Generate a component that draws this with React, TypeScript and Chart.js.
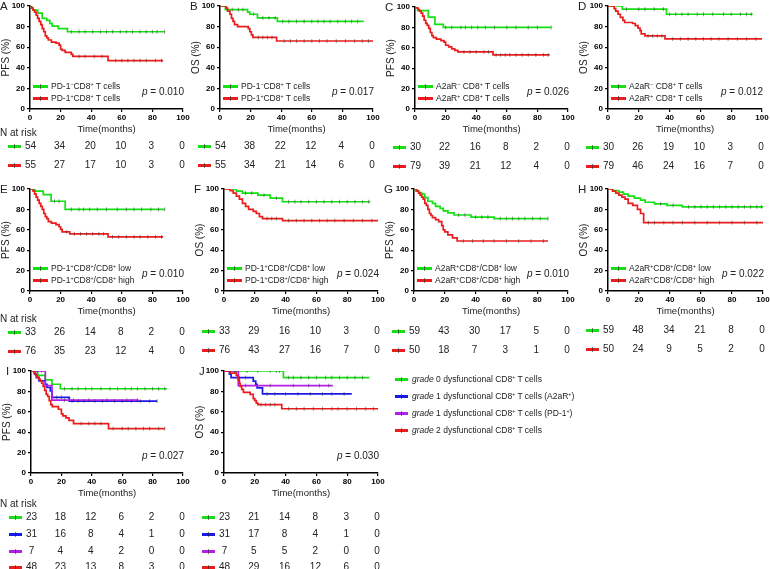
import React, { useEffect, useRef } from 'react';
import { Chart, registerables } from 'chart.js';
Chart.register(...registerables);

const FONT = "Arial, 'Liberation Sans', Helvetica, sans-serif";
const GREEN = '#14e014';
const RED = '#ec1c1c';
const BLUE = '#1a1ae6';
const PURPLE = '#b41ee8';

const xTicks = [0, 20, 40, 60, 80, 100];
const yTicks = [0, 20, 40, 60, 80, 100];
const riskMonths = [0, 20, 40, 60, 80, 100];

// ---------- Panel A (PFS, PD-1) ----------
const A_neg_t = [1, 2, 5, 8, 11, 13, 14.5, 18.5, 24.5];
const A_neg_s = [98, 96, 93, 88, 86, 83, 80.5, 78, 75];
const A_neg_c = [27, 32, 36, 41, 46, 50, 54, 59, 63, 67, 72, 76, 80, 83, 88];
const A_pos_t = [1, 2, 3, 4, 5, 6, 7, 8, 9, 10, 11, 12, 14, 17, 19, 20, 21, 23, 27, 28, 51];
const A_pos_s = [98, 96, 94, 91, 88, 85, 82, 78, 75, 71, 69, 67, 65, 64, 62, 58, 57, 55, 53, 51, 47];
const A_pos_c = [32, 36, 42, 47, 56, 60, 64, 68, 72, 76, 82, 86];
const A_risk = [[54, 34, 20, 10, 3, 0], [55, 27, 17, 10, 3, 0]];

// ---------- Panel B (OS, PD-1) ----------
const B_neg_t = [3.5, 18, 19.5, 24.5, 37.5];
const B_neg_s = [96.5, 94, 92, 88.5, 85];
const B_neg_c = [8, 12, 15, 22, 28, 32, 36, 41, 45, 50, 55, 60, 64, 68, 72, 77, 82, 86, 90];
const B_pos_t = [4, 5, 6.5, 7.5, 8.5, 9.5, 11.5, 18.5, 19.5, 20.5, 21.5, 37];
const B_pos_s = [98, 95, 92, 88, 85, 82, 80, 78, 75, 72, 69.5, 66];
const B_pos_c = [25, 28, 31, 34, 42, 46, 50, 55, 60, 65, 70, 76, 82, 88, 93, 97];
const B_risk = [[54, 38, 22, 12, 4, 0], [55, 34, 21, 14, 6, 0]];

// ---------- Panel C (PFS, A2aR) ----------
const C_neg_t = [1.7, 8.7, 13, 18.5];
const C_neg_s = [96.5, 90, 83, 80];
const C_neg_c = [20, 24, 30, 33, 37, 41, 46, 52, 60, 66, 74, 80, 89];
const C_pos_t = [1, 2, 3, 4, 5, 6, 7, 8, 9, 10, 11, 12, 14, 17, 19, 20, 22, 24, 26, 28, 51];
const C_pos_s = [99, 97.5, 96, 94, 91, 87, 84, 82, 79, 75, 72, 70, 68.5, 67, 65.5, 62.5, 61, 59, 57.5, 56, 53];
const C_pos_c = [32, 36, 40, 45, 48, 53, 56, 59, 62, 66, 70, 74, 79, 84, 87];
const C_risk = [[30, 22, 16, 8, 2, 0], [79, 39, 21, 12, 4, 0]];

// ---------- Panel D (OS, A2aR) ----------
const D_neg_t = [9.3, 38];
const D_neg_s = [97, 92];
const D_neg_c = [12, 20, 24, 30, 36, 40, 44, 48, 52, 58, 62, 68, 75, 80, 86, 90, 93];
const D_pos_t = [4, 5, 6.5, 8, 9.7, 10.8, 16, 17.7, 19.5, 20.8, 21.6, 24, 37];
const D_pos_s = [97.5, 95, 92, 89, 86, 84, 83, 81, 78.5, 76, 73, 71, 68];
const D_pos_c = [26, 29, 32, 35, 42, 47, 52, 57, 62, 67, 72, 78, 84, 90, 96];
const D_risk = [[30, 26, 19, 10, 3, 0], [79, 46, 24, 16, 7, 0]];

// ---------- Panel E (PFS, PD-1 ratio) ----------
const E_low_t = [3.3, 8.7, 13.8, 23];
const E_low_s = [98, 94.5, 88, 80];
const E_low_c = [16, 19, 27, 32, 35, 39, 44, 50, 57, 63, 68, 73, 79, 84, 88];
const E_high_t = [2, 3, 4, 5, 6, 7, 8, 9, 10, 11, 12, 14, 17, 19, 20, 21, 26, 51];
const E_high_s = [98, 95, 92, 89, 86, 83, 80, 76, 73, 71, 68, 66.5, 65, 63, 60.5, 58, 56, 53];
const E_high_c = [24, 29, 33, 37, 41, 45, 48, 54, 58, 63, 68, 72, 77, 82, 86];
const E_risk = [[33, 26, 14, 8, 2, 0], [76, 35, 23, 12, 4, 0]];

// ---------- Panel F (OS, PD-1 ratio) ----------
const F_low_t = [8, 12, 22, 30, 38];
const F_low_s = [98, 96, 94, 91, 87.5];
const F_low_c = [14, 18, 26, 34, 42, 46, 50, 55, 60, 65, 70, 75, 80, 85, 90, 94];
const F_high_t = [4, 6, 8, 10, 12, 14, 16, 19, 21, 23, 25, 38];
const F_high_s = [98.5, 96, 93, 90, 86, 83, 80, 78, 76, 73, 71, 69];
const F_high_c = [28, 31, 34, 42, 47, 52, 57, 62, 67, 72, 78, 84, 90, 96];
const F_risk = [[33, 29, 16, 10, 3, 0], [76, 43, 27, 16, 7, 0]];

// ---------- Panel G (PFS, A2aR ratio) ----------
const G_low_t = [1, 3, 5, 7, 9, 12, 14, 17, 19, 22, 26, 37, 52];
const G_low_s = [98, 96.5, 95, 91.5, 88, 86, 83, 81, 78.5, 76.5, 74.5, 72.5, 71];
const G_low_c = [29, 33, 40, 44, 48, 56, 60, 64, 68, 72, 77, 82, 87];
const G_high_t = [2, 3, 4, 5, 6, 7, 8, 9, 10, 11, 12, 14, 16, 18, 19, 20, 22, 25, 28];
const G_high_s = [98, 96, 94, 92, 90, 86, 84, 80, 76, 74, 72, 70, 68, 64, 60, 58, 55, 52, 49];
const G_high_c = [32, 38, 45, 52, 60, 68, 76, 84];
const G_risk = [[59, 43, 30, 17, 5, 0], [50, 18, 7, 3, 1, 0]];

// ---------- Panel H (OS, A2aR ratio) ----------
const H_low_t = [3, 7, 10, 13, 17, 21, 24, 30, 38, 48];
const H_low_s = [98.5, 97, 95, 93, 91, 89, 87, 85.5, 84, 82.5];
const H_low_c = [34, 42, 52, 56, 60, 64, 68, 72, 76, 80, 84, 88, 92, 96, 99];
const H_high_t = [3, 5, 7, 9, 11, 13, 16, 19, 21, 23];
const H_high_s = [98, 96, 94, 92, 90, 86, 84, 80, 76, 67];
const H_high_c = [26, 30, 36, 42, 48, 56, 64, 72, 80, 88, 96];
const H_risk = [[59, 48, 34, 21, 8, 0], [50, 24, 9, 5, 2, 0]];

// ---------- Panel I (PFS, grades) ----------
const I_g0_t = [4.4, 9.4, 13.8, 19.3];
const I_g0_s = [95.7, 91.3, 87, 82.6];
const I_g0_c = [22, 27, 31, 36, 40, 46, 52, 57, 62, 66, 70, 75, 80, 84, 88];
const I_g1a_t = [2.4, 3.5, 5.3, 9.4, 10.5, 12.7, 13.8, 25.2];
const I_g1a_s = [96.8, 93.5, 90.3, 87, 83.8, 80.6, 74.2, 70.5];
const I_g1a_c = [17, 20, 27, 31, 35, 42, 47, 55, 60, 66, 72, 78, 83];
const I_g1p_t = [9.4, 13.8];
const I_g1p_s = [85.7, 71.4];
const I_g1p_c = [4, 7, 22, 28, 38, 50, 63, 70];
const I_g2_t = [2, 3, 4, 5, 6, 7, 8, 9, 10, 11, 12, 13, 14, 18, 20, 21, 23, 25, 28, 51];
const I_g2_s = [98, 96, 94, 92, 90, 88, 85, 81, 77, 75, 71, 67, 65, 62.5, 58, 56, 54, 51.5, 48.5, 43.5];
const I_g2_c = [33, 38, 42, 46, 54, 60, 64, 69, 74, 78, 84, 88];
const I_risk = [[23, 18, 12, 6, 2, 0], [31, 16, 8, 4, 1, 0], [7, 4, 4, 2, 0, 0], [48, 23, 13, 8, 3, 0]];

// ---------- Panel J (OS, grades) ----------
const J_g0_t = [38.6];
const J_g0_s = [93.5];
const J_g0_c = [8, 15, 22, 30, 34, 36, 42, 45, 50, 55, 60, 66, 70, 75, 80, 85, 90];
const J_g1a_t = [3.5, 4.6, 19, 20.6, 21.5, 25];
const J_g1a_s = [97, 93.5, 90, 87, 83.5, 77.5];
const J_g1a_c = [10, 14, 28, 33, 40, 48, 56, 64, 70, 78];
const J_g1p_t = [9.3];
const J_g1p_s = [85.7];
const J_g1p_c = [4, 7, 14, 30, 45, 55, 62, 68];
const J_g2_t = [4, 8, 8.7, 9.3, 10, 10.5, 11.5, 12.6, 17, 19, 20, 21, 22, 37.5];
const J_g2_s = [98, 96, 93.5, 91, 88, 85, 82, 79, 77, 73, 71, 68.5, 67, 63];
const J_g2_c = [24, 27, 30, 33, 42, 47, 52, 58, 64, 70, 74, 80, 86, 92, 97];
const J_risk = [[23, 21, 14, 8, 3, 0], [31, 17, 8, 4, 1, 0], [7, 5, 5, 2, 0, 0], [48, 29, 16, 12, 6, 0]];

type Curve = { color: string; t: number[]; s: number[]; end: number; c: number[] };

function survAt(t: number[], s: number[], time: number) {
  let v = 100;
  for (let i = 0; i < t.length; i++) if (t[i] <= time) v = s[i];
  return v;
}

const padL = 30, padR = 10, padT = 7, padB = 27;

function KMChart({ x0, x1, yt, yb, yTitle, curves }: { x0: number; x1: number; yt: number; yb: number; yTitle: string; curves: Curve[] }) {
  const ref = useRef<HTMLCanvasElement>(null);
  const W = x1 - x0 + padL + padR;
  const H = yb - yt + padT + padB;
  useEffect(() => {
    const datasets: any[] = [];
    curves.forEach((cv) => {
      datasets.push({
        data: cv.c.map((x) => ({ x, y: survAt(cv.t, cv.s, x) })),
        showLine: false, pointStyle: 'line', rotation: 90, pointRadius: 2,
        borderColor: 'rgba(40,40,40,0.6)', backgroundColor: 'rgba(40,40,40,0.6)', borderWidth: 0.8, order: 0,
      });
    });
    curves.forEach((cv, i) => {
      const last = cv.s[cv.s.length - 1];
      datasets.push({
        data: [{ x: 0, y: 100 }, ...cv.t.map((x, k) => ({ x, y: cv.s[k] })), { x: cv.end, y: last }],
        showLine: true, stepped: true, borderColor: cv.color, borderWidth: 1.7, pointRadius: 0, fill: false, order: 1 + (curves.length - i),
      });
    });
    const tickFont = { size: 8, weight: 'bold' as const, family: FONT };
    const chart = new Chart(ref.current as HTMLCanvasElement, {
      type: 'scatter',
      data: { datasets },
      options: {
        responsive: false, animation: false, devicePixelRatio: 1,
        layout: { padding: { top: padT, right: padR, left: 0, bottom: 0 } },
        plugins: { legend: { display: false }, tooltip: { enabled: false } },
        events: [],
        scales: {
          x: {
            type: 'linear', min: 0, max: 100,
            afterBuildTicks: (s: any) => { s.ticks = xTicks.map((v) => ({ value: v })); },
            afterFit: (s: any) => { s.height = padB; },
            ticks: { font: tickFont, color: '#000', padding: 1, maxRotation: 0, autoSkip: false },
            grid: { drawOnChartArea: false, drawTicks: true, tickLength: 3, color: '#000', lineWidth: 1.2 },
            border: { display: true, color: '#000', width: 1.5 },
            title: { display: true, text: 'Time(months)', font: { size: 9.5, family: FONT }, color: '#222', padding: { top: 0, bottom: 1 } },
          },
          y: {
            type: 'linear', min: 0, max: 100,
            afterBuildTicks: (s: any) => { s.ticks = yTicks.map((v) => ({ value: v })); },
            afterFit: (s: any) => { s.width = padL; },
            ticks: { font: tickFont, color: '#000', padding: 2, autoSkip: false },
            grid: { drawOnChartArea: false, drawTicks: true, tickLength: 3, color: '#000', lineWidth: 1.2 },
            border: { display: true, color: '#000', width: 1.5 },
            title: { display: true, text: yTitle, font: { size: 10, family: FONT }, color: '#222', padding: { top: 0, bottom: 0 } },
          },
        },
      } as any,
    });
    return () => chart.destroy();
  }, []);
  return (
    <canvas ref={ref} width={W} height={H}
      style={{ position: 'absolute', left: x0 - padL, top: yt - padT, width: W, height: H }} />
  );
}

const sup = (c: string) => (
  <span style={{ fontSize: '0.62em', position: 'relative', top: '-0.55em' }}>{c}</span>
);

function LegendLine({ x, y, color, w = 15 }: { x: number; y: number; color: string; w?: number }) {
  return (
    <>
      <div style={{ position: 'absolute', left: x, top: y - 1.5, width: w, height: 3, background: color }} />
      <div style={{ position: 'absolute', left: x + w / 2 - 0.5, top: y - 2.5, width: 1, height: 5, background: 'rgba(40,40,40,0.6)' }} />
    </>
  );
}

function Txt({ x, y, children, size = 10, align = 'left', w = 200, style = {} }: any) {
  const left = align === 'left' ? x : align === 'right' ? x - w : x - w / 2;
  return (
    <div style={{ position: 'absolute', left, top: y - size * 0.6, width: w, lineHeight: `${size * 1.2}px`, fontSize: size, fontFamily: FONT, color: '#222', textAlign: align, whiteSpace: 'nowrap', ...style }}>
      {children}
    </div>
  );
}

type PanelDef = {
  id: string; x0: number; x1: number; yt: number; yb: number; yTitle: string;
  curves: Curve[]; legend?: any[]; p: string; risk: number[][]; riskY: number[]; nAtRisk?: boolean;
};

const PD1neg = <>PD-1{sup('−')}CD8{sup('+')} T cells</>;
const PD1pos = <>PD-1{sup('+')}CD8{sup('+')} T cells</>;
const A2neg = <>A2aR{sup('−')} CD8{sup('+')} T cells</>;
const A2pos = <>A2aR{sup('+')} CD8{sup('+')} T cells</>;
const PD1low = <>PD-1{sup('+')}CD8{sup('+')}/CD8{sup('+')} low</>;
const PD1high = <>PD-1{sup('+')}CD8{sup('+')}/CD8{sup('+')} high</>;
const A2low = <>A2aR{sup('+')}CD8{sup('+')}/CD8{sup('+')} low</>;
const A2high = <>A2aR{sup('+')}CD8{sup('+')}/CD8{sup('+')} high</>;

const gradeLegend = [
  { color: GREEN, label: <><i>grade</i> 0 dysfunctional CD8{sup('+')} T cells</> },
  { color: BLUE, label: <><i>grade</i> 1 dysfunctional CD8{sup('+')} T cells (A2aR{sup('+')})</> },
  { color: PURPLE, label: <><i>grade</i> 1 dysfunctional CD8{sup('+')} T cells (PD-1{sup('+')})</> },
  { color: RED, label: <><i>grade</i> 2 dysfunctional CD8{sup('+')} T cells</> },
];

const panels: PanelDef[] = [
  { id: 'A', x0: 30, x1: 183, yt: 6, yb: 109, yTitle: 'PFS (%)', p: '0.010', risk: A_risk, riskY: [146, 165], nAtRisk: true,
    curves: [{ color: GREEN, t: A_neg_t, s: A_neg_s, end: 88, c: A_neg_c }, { color: RED, t: A_pos_t, s: A_pos_s, end: 87, c: A_pos_c }],
    legend: [PD1neg, PD1pos] },
  { id: 'B', x0: 220, x1: 373, yt: 6, yb: 109, yTitle: 'OS (%)', p: '0.017', risk: B_risk, riskY: [146, 165],
    curves: [{ color: GREEN, t: B_neg_t, s: B_neg_s, end: 94, c: B_neg_c }, { color: RED, t: B_pos_t, s: B_pos_s, end: 100, c: B_pos_c }],
    legend: [PD1neg, PD1pos] },
  { id: 'C', x0: 415, x1: 568, yt: 7, yb: 109, yTitle: 'PFS (%)', p: '0.026', risk: C_risk, riskY: [147, 166],
    curves: [{ color: GREEN, t: C_neg_t, s: C_neg_s, end: 89, c: C_neg_c }, { color: RED, t: C_pos_t, s: C_pos_s, end: 88, c: C_pos_c }],
    legend: [A2neg, A2pos] },
  { id: 'D', x0: 608, x1: 762, yt: 6, yb: 109, yTitle: 'OS (%)', p: '0.012', risk: D_risk, riskY: [147, 166],
    curves: [{ color: GREEN, t: D_neg_t, s: D_neg_s, end: 94, c: D_neg_c }, { color: RED, t: D_pos_t, s: D_pos_s, end: 100, c: D_pos_c }],
    legend: [A2neg, A2pos] },
  { id: 'E', x0: 30, x1: 183, yt: 189, yb: 291, yTitle: 'PFS (%)', p: '0.010', risk: E_risk, riskY: [332, 351], nAtRisk: true,
    curves: [{ color: GREEN, t: E_low_t, s: E_low_s, end: 88, c: E_low_c }, { color: RED, t: E_high_t, s: E_high_s, end: 87, c: E_high_c }],
    legend: [PD1low, PD1high] },
  { id: 'F', x0: 224, x1: 378, yt: 189, yb: 291, yTitle: 'OS (%)', p: '0.024', risk: F_risk, riskY: [331, 350],
    curves: [{ color: GREEN, t: F_low_t, s: F_low_s, end: 95, c: F_low_c }, { color: RED, t: F_high_t, s: F_high_s, end: 100, c: F_high_c }],
    legend: [PD1low, PD1high] },
  { id: 'G', x0: 414, x1: 568, yt: 189, yb: 291, yTitle: 'PFS (%)', p: '0.010', risk: G_risk, riskY: [331, 350],
    curves: [{ color: GREEN, t: G_low_t, s: G_low_s, end: 87, c: G_low_c }, { color: RED, t: G_high_t, s: G_high_s, end: 87, c: G_high_c }],
    legend: [A2low, A2high] },
  { id: 'H', x0: 608, x1: 763, yt: 189, yb: 291, yTitle: 'OS (%)', p: '0.022', risk: H_risk, riskY: [330, 349],
    curves: [{ color: GREEN, t: H_low_t, s: H_low_s, end: 100, c: H_low_c }, { color: RED, t: H_high_t, s: H_high_s, end: 100, c: H_high_c }],
    legend: [A2low, A2high] },
  { id: 'I', x0: 31, x1: 183, yt: 371, yb: 473, yTitle: 'PFS (%)', p: '0.027', risk: I_risk, riskY: [517, 534, 551, 567], nAtRisk: true,
    curves: [
      { color: GREEN, t: I_g0_t, s: I_g0_s, end: 89.5, c: I_g0_c },
      { color: BLUE, t: I_g1a_t, s: I_g1a_s, end: 83, c: I_g1a_c },
      { color: PURPLE, t: I_g1p_t, s: I_g1p_s, end: 70.8, c: I_g1p_c },
      { color: RED, t: I_g2_t, s: I_g2_s, end: 88, c: I_g2_c },
    ] },
  { id: 'J', x0: 224, x1: 378, yt: 371, yb: 473, yTitle: 'OS (%)', p: '0.030', risk: J_risk, riskY: [517, 534, 551, 567],
    curves: [
      { color: GREEN, t: J_g0_t, s: J_g0_s, end: 94.4, c: J_g0_c },
      { color: BLUE, t: J_g1a_t, s: J_g1a_s, end: 83, c: J_g1a_c },
      { color: PURPLE, t: J_g1p_t, s: J_g1p_s, end: 70.7, c: J_g1p_c },
      { color: RED, t: J_g2_t, s: J_g2_s, end: 100, c: J_g2_c },
    ] },
];

function Panel({ d }: { d: PanelDef }) {
  const scale = (d.x1 - d.x0) / 100;
  return (
    <>
      <KMChart x0={d.x0} x1={d.x1} yt={d.yt} yb={d.yb} yTitle={d.yTitle} curves={d.curves} />
      <Txt x={d.x0 - 30 + (d.id === 'I' || d.id === 'J' ? 5 : 0)} y={d.yt + 1} size={11.5} w={20}>{d.id}</Txt>
      {d.legend && d.legend.map((lab, i) => (
        <React.Fragment key={i}>
          <LegendLine x={d.x0 + 3} y={d.yb - 23 + i * 12} color={d.curves[i].color} />
          <Txt x={d.x0 + 21} y={d.yb - 23 + i * 12} size={8.5}>{lab}</Txt>
        </React.Fragment>
      ))}
      <Txt x={d.x1 + 1} y={d.yb - 17} size={10} align="right" w={80}><i>p</i> = {d.p}</Txt>
      {d.nAtRisk && <Txt x={0} y={d.riskY[0] - 13} size={10}>N at risk</Txt>}
      {d.risk.map((row, r) => (
        <React.Fragment key={r}>
          <LegendLine x={d.x0 - 22} y={d.riskY[r]} color={d.curves[r].color} w={13} />
          {row.map((n, k) => (
            <Txt key={k} x={d.x0 + riskMonths[k] * scale + (k === 0 ? 0.5 : -1)} y={d.riskY[r]} size={10} align="center" w={30}>{n}</Txt>
          ))}
        </React.Fragment>
      ))}
    </>
  );
}

export default function App() {
  const legY = [379, 396, 413, 430];
  return (
    <div style={{ position: 'absolute', left: 0, top: 0, width: 770, height: 569, overflow: 'hidden', background: '#fff' }}>
      {panels.map((d) => <Panel key={d.id} d={d} />)}
      {gradeLegend.map((g, i) => (
        <React.Fragment key={i}>
          <LegendLine x={395} y={legY[i]} color={g.color} w={13} />
          <Txt x={412} y={legY[i]} size={8.5}>{g.label}</Txt>
        </React.Fragment>
      ))}
    </div>
  );
}
